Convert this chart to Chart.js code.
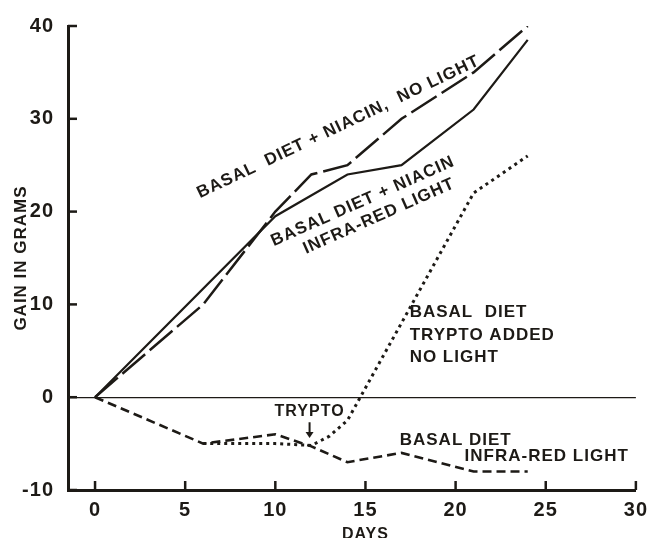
<!DOCTYPE html>
<html>
<head>
<meta charset="utf-8">
<title>Gain in grams</title>
<script src="https://cdn.jsdelivr.net/npm/chart.js@4.4.1/dist/chart.umd.min.js"></script>
<style>
  html, body { margin: 0; padding: 0; background: #fff; }
  #wrap { width: 655px; height: 538px; }
</style>
</head>
<body>
<div id="wrap"><canvas id="chart" width="655" height="538"></canvas></div>
<script>
// ---- values ----
const xTicks = [0, 5, 10, 15, 20, 25, 30];
const yTicks = [-10, 0, 10, 20, 30, 40];

// Basal diet + niacin, no light (long dashes)
const niacinDarkDays = [0, 6, 10, 12, 14, 17, 21, 24];
const niacinDarkGain = [0, 10, 20, 24, 25, 30, 35, 40];

// Basal diet + niacin, infra-red light (solid)
const niacinIRDays = [0, 10, 14, 17, 21, 24];
const niacinIRGain = [0, 19.5, 24, 25, 31, 38.5];

// Basal diet, trypto added, no light (dotted)
const tryptoDays = [6, 10, 12, 13, 14, 21, 24];
const tryptoGain = [-5, -5, -5.2, -4.2, -2.5, 22, 26];

// Basal diet, infra-red light (short dashes)
const basalIRDays = [0, 6, 10, 12, 14, 17, 21, 24];
const basalIRGain = [0, -5, -4, -5.3, -7, -6, -8, -8];

const INK = '#1d1a16';
const FONT = "'Liberation Sans', Arial, sans-serif";

const toPoints = (xs, ys) => xs.map((d, i) => ({ x: d, y: ys[i] }));

// text on the plot, placed in data units
const notes = [
  { x: 13.5, y: 29.1, angle: -25.5, size: 17, lines: ['BASAL  DIET + NIACIN,  NO LIGHT'] },
  { x: 14.85, y: 21.1, angle: -24, size: 17, lines: ['BASAL DIET + NIACIN'] },
  { x: 15.75, y: 19.5, angle: -24, size: 17, lines: ['INFRA-RED LIGHT'] },
  { x: 17.45, y: 9.1, angle: 0, size: 17, align: 'left', lines: ['BASAL  DIET', 'TRYPTO ADDED', 'NO LIGHT'] },
  { x: 16.9, y: -4.6, angle: 0, size: 17, align: 'left', lines: ['BASAL DIET'] },
  { x: 20.5, y: -6.4, angle: 0, size: 17, align: 'left', lines: ['INFRA-RED LIGHT'] },
  { x: 11.9, y: -1.6, angle: 0, size: 16, lines: ['TRYPTO'] }
];

const spacing = {
  id: 'spacing',
  beforeDraw(chart) { chart.ctx.letterSpacing = '1px'; }
};

const notesPlugin = {
  id: 'notes',
  afterDraw(chart) {
    const { ctx, chartArea, scales: { x, y } } = chart;
    ctx.save();
    ctx.fillStyle = INK;
    ctx.strokeStyle = INK;
    ctx.letterSpacing = '1px';

    // tick marks point inward
    ctx.lineWidth = 2.5;
    xTicks.forEach(v => {
      const px = x.getPixelForValue(v);
      ctx.beginPath();
      ctx.moveTo(px, chartArea.bottom);
      ctx.lineTo(px, chartArea.bottom - 9);
      ctx.stroke();
    });
    yTicks.forEach(v => {
      const py = y.getPixelForValue(v);
      ctx.beginPath();
      ctx.moveTo(chartArea.left, py);
      ctx.lineTo(chartArea.left + 9, py);
      ctx.stroke();
    });

    notes.forEach(n => {
      ctx.save();
      ctx.translate(x.getPixelForValue(n.x), y.getPixelForValue(n.y));
      ctx.rotate(n.angle * Math.PI / 180);
      ctx.font = 'bold ' + n.size + 'px ' + FONT;
      ctx.textAlign = n.align || 'center';
      ctx.textBaseline = 'middle';
      const offset = n.align === 'left' ? 0 : (n.lines.length - 1) / 2;
      n.lines.forEach((t, i) => ctx.fillText(t, 0, (i - offset) * 22.5));
      ctx.restore();
    });

    // arrow under TRYPTO
    const ax = x.getPixelForValue(11.9);
    const ay1 = y.getPixelForValue(-2.7);
    const ay2 = y.getPixelForValue(-4.4);
    ctx.lineWidth = 2;
    ctx.beginPath();
    ctx.moveTo(ax, ay1);
    ctx.lineTo(ax, ay2 - 4);
    ctx.stroke();
    ctx.beginPath();
    ctx.moveTo(ax - 4, ay2 - 6);
    ctx.lineTo(ax + 4, ay2 - 6);
    ctx.lineTo(ax, ay2);
    ctx.closePath();
    ctx.fill();

    // x axis title, centred under day 15
    ctx.font = 'bold 16px ' + FONT;
    ctx.textAlign = 'center';
    ctx.textBaseline = 'alphabetic';
    ctx.fillText('DAYS', x.getPixelForValue(15), 538.5);
    ctx.restore();
  }
};

const ctx = document.getElementById('chart').getContext('2d');
new Chart(ctx, {
  type: 'line',
  data: {
    datasets: [
      {
        label: 'Basal diet + niacin, no light',
        data: toPoints(niacinDarkDays, niacinDarkGain),
        borderColor: INK,
        borderWidth: 2.5,
        borderDash: [30, 6]
      },
      {
        label: 'Basal diet + niacin, infra-red light',
        data: toPoints(niacinIRDays, niacinIRGain),
        borderColor: INK,
        borderWidth: 2.2
      },
      {
        label: 'Basal diet, trypto added, no light',
        data: toPoints(tryptoDays, tryptoGain),
        borderColor: INK,
        borderWidth: 3,
        borderDash: [3, 4]
      },
      {
        label: 'Basal diet, infra-red light',
        data: toPoints(basalIRDays, basalIRGain),
        borderColor: INK,
        borderWidth: 2.6,
        borderDash: [9, 5]
      }
    ]
  },
  options: {
    responsive: false,
    animation: false,
    devicePixelRatio: 1,
    layout: { padding: { top: 23, right: 15, left: 0, bottom: 0 } },
    elements: { point: { radius: 0 }, line: { tension: 0, fill: false } },
    plugins: { legend: { display: false }, tooltip: { enabled: false } },
    scales: {
      x: {
        type: 'linear',
        min: -1.5,
        max: 30,
        afterBuildTicks: s => { s.ticks = xTicks.map(v => ({ value: v })); },
        afterFit: s => { s.height = 48; },
        grid: { display: true, color: 'rgba(0,0,0,0)', drawTicks: false },
        border: { display: true, color: INK, width: 3 },
        ticks: { color: INK, padding: 8, font: { family: FONT, size: 20, weight: 'bold' } }
      },
      y: {
        min: -10,
        max: 40,
        afterBuildTicks: s => { s.ticks = yTicks.map(v => ({ value: v })); },
        afterFit: s => { s.width = 68; },
        grid: {
          display: true,
          drawTicks: false,
          lineWidth: 1.3,
          color: c => (c.tick && c.tick.value === 0 ? INK : 'rgba(0,0,0,0)')
        },
        border: { display: true, color: INK, width: 3 },
        ticks: { color: INK, padding: 14, font: { family: FONT, size: 20, weight: 'bold' } },
        title: {
          display: true,
          text: 'GAIN IN GRAMS',
          color: INK,
          padding: { top: 11, bottom: 0 },
          font: { family: FONT, size: 17, weight: 'bold' }
        }
      }
    }
  },
  plugins: [spacing, notesPlugin]
});
</script>
</body>
</html>
